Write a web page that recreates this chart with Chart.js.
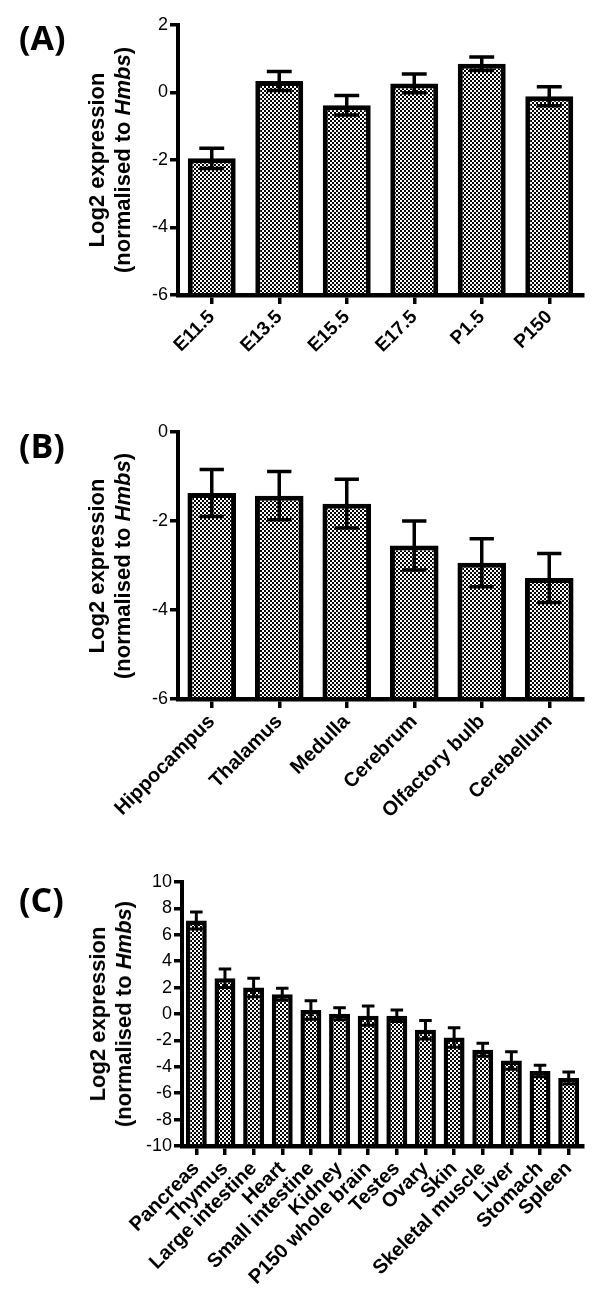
<!DOCTYPE html>
<html>
<head>
<meta charset="utf-8">
<script src="https://cdn.jsdelivr.net/npm/chart.js@4.4.1/dist/chart.umd.min.js"></script>
<style>
  body { margin: 0; background: #fff; }
  #page { position: relative; width: 600px; height: 1301px; overflow: hidden; }
  canvas { position: absolute; left: 0; }
  .tag { position: absolute; left: 19px; font: bold 34px 'Open Sans', sans-serif; line-height: 34px; }
  .ytitle {
    position: absolute; font: bold 22px 'Liberation Sans', Arial, sans-serif; line-height: 26px;
    text-align: center; white-space: nowrap; transform: translate(-50%, -50%) rotate(-90deg);
  }
</style>
</head>
<body>
<div id="page">
  <canvas id="chart-a" width="600" height="400" style="top:0"></canvas>
  <canvas id="chart-b" width="600" height="440" style="top:400px"></canvas>
  <canvas id="chart-c" width="600" height="461" style="top:840px"></canvas>

  <div class="tag" style="top:20px">(A)</div>
  <div class="tag" style="top:428px">(B)</div>
  <div class="tag" style="top:882px">(C)</div>

  <div class="ytitle" style="left:110px; top:160px">Log2 expression<br>(normalised to <i>Hmbs</i>)</div>
  <div class="ytitle" style="left:110px; top:566px">Log2 expression<br>(normalised to <i>Hmbs</i>)</div>
  <div class="ytitle" style="left:111px; top:1014px">Log2 expression<br>(normalised to <i>Hmbs</i>)</div>
</div>

<script>
// (A) developmental stages
const stageLabels = ['E11.5', 'E13.5', 'E15.5', 'E17.5', 'P1.5', 'P150'];
const stageValues = [-1.95, 0.34, -0.38, 0.27, 0.85, -0.11];
const stageSem = [0.30, 0.28, 0.29, 0.28, 0.20, 0.28];
const stageTicks = [2, 0, -2, -4, -6];

// (B) brain regions
const brainLabels = ['Hippocampus', 'Thalamus', 'Medulla', 'Cerebrum', 'Olfactory bulb', 'Cerebellum'];
const brainValues = [-1.37, -1.43, -1.61, -2.55, -2.94, -3.28];
const brainSem = [0.53, 0.54, 0.55, 0.55, 0.54, 0.55];
const brainTicks = [0, -2, -4, -6];

// (C) tissues
const tissueLabels = ['Pancreas', 'Thymus', 'Large intestine', 'Heart', 'Small intestine', 'Kidney',
  'P150 whole brain', 'Testes', 'Ovary', 'Skin', 'Skeletal muscle', 'Liver', 'Stomach', 'Spleen'];
const tissueValues = [7.08, 2.71, 2.0, 1.5, 0.3, 0.02, -0.13, -0.13, -1.2, -1.78, -2.71, -3.52, -4.32, -4.85];
const tissueSem = [0.65, 0.7, 0.7, 0.46, 0.7, 0.45, 0.73, 0.43, 0.7, 0.73, 0.5, 0.66, 0.43, 0.45];
const tissueTicks = [10, 8, 6, 4, 2, 0, -2, -4, -6, -8, -10];

Chart.defaults.font.family = "'Liberation Sans', Arial, sans-serif";
Chart.defaults.color = '#000';

// checkerboard fill like the original hatch
function checker(ctx) {
  const tile = document.createElement('canvas');
  tile.width = 4; tile.height = 4;
  const t = tile.getContext('2d');
  t.fillStyle = '#000'; t.fillRect(0, 0, 4, 4);
  t.fillStyle = '#fff'; t.fillRect(0, 0, 2, 2); t.fillRect(2, 2, 2, 2);
  return ctx.createPattern(tile, 'repeat');
}

// SEM bars drawn on top of each bar
const errorBars = {
  id: 'errorBars',
  afterDatasetsDraw(chart, args, opts) {
    const ctx = chart.ctx;
    const y = chart.scales.y;
    const ds = chart.data.datasets[0];
    ctx.save();
    ctx.strokeStyle = '#000';
    ctx.lineWidth = opts.width;
    chart.getDatasetMeta(0).data.forEach((bar, i) => {
      const top = y.getPixelForValue(ds.data[i] + ds.sem[i]);
      const bot = y.getPixelForValue(ds.data[i] - ds.sem[i]);
      const half = bar.width * opts.cap / 2;
      ctx.beginPath();
      ctx.moveTo(bar.x, top); ctx.lineTo(bar.x, bot);
      ctx.moveTo(bar.x - half, top); ctx.lineTo(bar.x + half, top);
      ctx.moveTo(bar.x - half, bot); ctx.lineTo(bar.x + half, bot);
      ctx.stroke();
    });
    ctx.restore();
  }
};

function makeChart(id, labels, values, sem, ticks, g) {
  const ctx = document.getElementById(id).getContext('2d');
  const lo = Math.min(...ticks);
  const hi = Math.max(...ticks);
  return new Chart(ctx, {
    type: 'bar',
    data: {
      labels: labels,
      datasets: [{
        data: values,
        sem: sem,
        base: lo,
        backgroundColor: checker(ctx),
        borderColor: '#000',
        borderWidth: g.bw,
        borderSkipped: 'start',
        barPercentage: g.bar,
        categoryPercentage: 1
      }]
    },
    options: {
      responsive: false,
      animation: false,
      layout: { padding: { top: g.top, right: g.right, left: 0, bottom: 0 } },
      plugins: {
        legend: { display: false },
        tooltip: { enabled: false },
        errorBars: { cap: g.cap, width: g.ew }
      },
      scales: {
        x: {
          z: 1,
          grid: { offset: false, drawOnChartArea: false, color: '#000', lineWidth: 3.5, tickLength: 9 },
          border: { color: '#000', width: 4.5 },
          ticks: { autoSkip: false, minRotation: 45, maxRotation: 45, padding: 2, font: { size: g.xf, weight: 'bold' } },
          afterFit: s => { s.height = g.xh; }
        },
        y: {
          min: lo,
          max: hi,
          grid: { drawOnChartArea: false, color: '#000', lineWidth: 3.5, tickLength: 8 },
          border: { color: '#000', width: 4 },
          ticks: { stepSize: 2, padding: 2, font: { size: 18 } },
          afterFit: s => { s.width = g.yw; }
        }
      }
    },
    plugins: [errorBars]
  });
}

makeChart('chart-a', stageLabels, stageValues, stageSem, stageTicks,
  { top: 25, right: 17, yw: 178, xh: 105, bar: 0.71, bw: 5, cap: 0.52, ew: 3.5, xf: 19 });
makeChart('chart-b', brainLabels, brainValues, brainSem, brainTicks,
  { top: 32, right: 17, yw: 178, xh: 141, bar: 0.72, bw: 5, cap: 0.5, ew: 3.5, xf: 20 });
makeChart('chart-c', tissueLabels, tissueValues, tissueSem, tissueTicks,
  { top: 42, right: 17, yw: 182, xh: 155, bar: 0.73, bw: 4.5, cap: 0.6, ew: 3, xf: 20 });
</script>
</body>
</html>
